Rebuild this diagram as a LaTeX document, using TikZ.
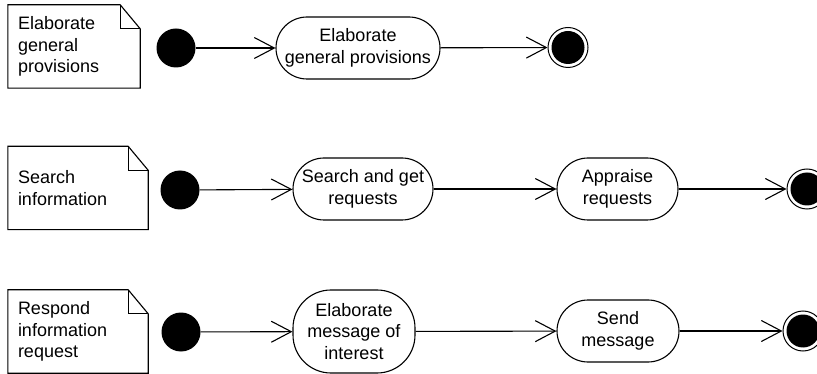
\documentclass[tikz,border=0pt]{standalone}
\usepackage{fontspec}
\setmainfont{Liberation Sans}
\usetikzlibrary{arrows.meta,calc}

\tikzset{
  every node/.style={font=\fontsize{18}{21.5}\selectfont},
  ln/.style={line width=1.1pt},
  notebox/.style={inner sep=0pt, align=left, text width=#1-20pt, minimum width=#1, minimum height=83pt},
  startdot/.style={circle, fill=black, inner sep=0pt, minimum size=39pt},
  enddot/.style={circle, draw, line width=1pt, inner sep=0pt, minimum size=40pt,
    path picture={\fill (path picture bounding box.center) circle (16.5pt);}},
  activity/.style={draw, ln, rectangle, rounded corners=31pt, align=center, inner sep=0pt},
  flow/.style={ln, -{Straight Barb[length=20pt,width=21pt,line width=1.1pt]}}
}

% draws the dog-eared outline around a note node
\newcommand{\notefold}[1]{%
  \draw[ln] (#1.north west) -- ($(#1.north east)+(-20pt,0)$) -- ($(#1.north east)+(0,-24pt)$)
    -- (#1.south east) -- (#1.south west) -- cycle;
  \draw[ln] ($(#1.north east)+(-20pt,0)$) |- ($(#1.north east)+(0,-24pt)$);
}

\begin{document}
\begin{tikzpicture}[x=1pt,y=-1pt]
\useasboundingbox (0,0) rectangle (817,374);

% first row
\node[notebox=132pt] (n1) at (74,46.5) {Elaborate\\general\\provisions};
\notefold{n1}
\node[startdot] (s1) at (176,48) {};
\node[activity, minimum width=164pt, minimum height=62pt] (a1) at (358,48) {Elaborate\\general provisions};
\node[enddot] (e1) at (568,47.5) {};
\draw[flow] (s1) -- (a1);
\draw[flow] (a1) -- (e1);

% second row
\node[notebox=140pt] (n2) at (78,188) {Search\\information};
\notefold{n2}
\node[startdot] (s2) at (180,190) {};
\node[activity, minimum width=140pt, minimum height=62pt] (a2) at (363,189) {Search and get\\requests};
\node[activity, minimum width=121pt, minimum height=62pt] (a3) at (617.5,189) {Appraise\\requests};
\node[enddot] (e2) at (807,189) {};
\draw[flow] (s2) -- (a2);
\draw[flow] (a2) -- (a3);
\draw[flow] (a3) -- (e2);

% third row
\node[notebox=140pt] (n3) at (78,331.5) {Respond\\information\\request};
\notefold{n3}
\node[startdot] (s3) at (181,332) {};
\node[activity, rounded corners=38pt, minimum width=122pt, minimum height=83pt] (a4) at (354,331.5) {Elaborate\\message of\\interest};
\node[activity, minimum width=122pt, minimum height=62pt] (a5) at (618,331) {Send\\message};
\node[enddot] (e3) at (803,331) {};
\draw[flow] (s3) -- (a4);
\draw[flow] (a4) -- (a5);
\draw[flow] (a5) -- (e3);
\end{tikzpicture}
\end{document}
